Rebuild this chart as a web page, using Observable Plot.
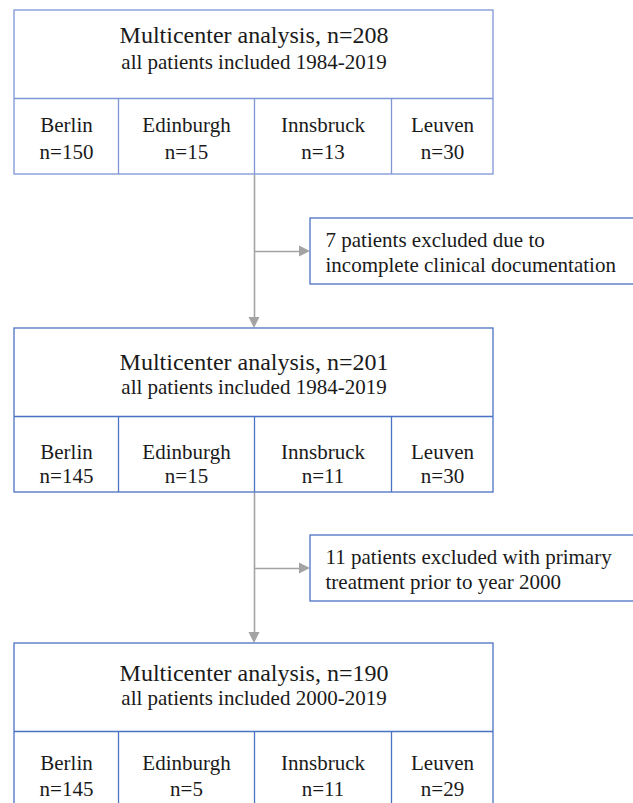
<!DOCTYPE html>
<html><head><meta charset="utf-8">
<script src="https://cdn.jsdelivr.net/npm/d3@7"></script>
<script src="https://cdn.jsdelivr.net/npm/@observablehq/plot@0.6"></script>
<style>body{margin:0;background:#fff}</style>
</head><body><div id="chart"></div>
<script>
// ---- data ----
const stageTitles = ["Multicenter analysis, n=208", "Multicenter analysis, n=201", "Multicenter analysis, n=190"];
const stageSubtitles = ["all patients included 1984-2019", "all patients included 1984-2019", "all patients included 2000-2019"];
const centers = ["Berlin", "Edinburgh", "Innsbruck", "Leuven"];
const countsStage1 = [150, 15, 13, 30];
const countsStage2 = [145, 15, 11, 30];
const countsStage3 = [145, 5, 11, 29];
const exclusionLines1 = ["7 patients excluded due to", "incomplete clinical documentation"];
const exclusionLines2 = ["11 patients excluded with primary", "treatment prior to year 2000"];

// ---- layout ----
const W = 633, H = 803;
const colEdges = [14, 118, 254, 391, 493];
const boxLeft = colEdges[0], boxRight = colEdges[colEdges.length - 1];
const boxTops = [10, 328, 643];
const boxH = 164, headerH = 88;
const titleDy = [25, 34, 30], subDy = [52, 59, 55], nameDy = [115, 124, 120], countDy = [142, 148, 146];
const exclTops = [218, 535], exclH = 66, exclLeft = 310, exclRight = 650;
const mainX = colEdges[2];
const head = 11;

const blueLight = "#7d96d4", blue = "#4a72c4", gray = "#a3a3a3", ink = "#1a1a1a", font = "Liberation Serif";
const boxColors = [blueLight, blue, blue];

const counts = [countsStage1, countsStage2, countsStage3];
const exclusions = [exclusionLines1, exclusionLines2];

const boxes = stageTitles.map((t, i) => ({k: i, x1: boxLeft, x2: boxRight, y1: boxTops[i], y2: boxTops[i] + boxH}));
const headerRules = boxTops.map((t, i) => ({k: i, x1: boxLeft, x2: boxRight, y: t + headerH}));
const colRules = boxTops.flatMap((t, i) => colEdges.slice(1, -1).map(x => ({k: i, x, y1: t + headerH, y2: t + boxH})));
const titleText = stageTitles.map((t, i) => ({x: (boxLeft + boxRight) / 2, y: boxTops[i] + titleDy[i], text: t}));
const subText = stageSubtitles.map((t, i) => ({x: (boxLeft + boxRight) / 2, y: boxTops[i] + subDy[i], text: t}));
const cellText = counts.flatMap((row, i) => row.flatMap((n, j) => {
  const cx = (colEdges[j] + colEdges[j + 1]) / 2;
  return [
    {x: cx, y: boxTops[i] + nameDy[i], text: centers[j]},
    {x: cx, y: boxTops[i] + countDy[i], text: "n=" + n}
  ];
}));
const exclBoxes = exclTops.map(t => ({x1: exclLeft, x2: exclRight, y1: t, y2: t + exclH}));
const exclText = exclusions.map((lines, i) => ({x: exclLeft + 15, y: exclTops[i] + exclH / 2, text: lines.join("\n")}));

// connectors
const vLinks = exclTops.map((t, i) => ({x1: mainX, x2: mainX, y1: boxTops[i] + boxH, y2: boxTops[i + 1] - head}));
const hLinks = exclTops.map(t => ({x1: mainX, x2: exclLeft - head, y1: t + exclH / 2, y2: t + exclH / 2}));
const downHeads = exclTops.flatMap((t, i) => {
  const tip = boxTops[i + 1];
  return [
    {k: i, x: mainX - head / 2, y1: tip - head, y2: tip - head},
    {k: i, x: mainX, y1: tip - head, y2: tip},
    {k: i, x: mainX + head / 2, y1: tip - head, y2: tip - head}
  ];
});
const rightHeads = exclTops.flatMap((t, i) => {
  const cy = t + exclH / 2, tip = exclLeft;
  return [
    {k: i, y: cy - head / 2, x1: tip - head, x2: tip - head},
    {k: i, y: cy, x1: tip - head, x2: tip},
    {k: i, y: cy + head / 2, x1: tip - head, x2: tip - head}
  ];
});

const strokeOf = d => boxColors[d.k];

const chart = Plot.plot({
  width: W, height: H, margin: 0,
  x: {domain: [0, W], range: [0, W], axis: null},
  y: {domain: [0, H], range: [0, H], axis: null},
  color: {type: "identity"},
  style: {background: "#fff"},
  marks: [
    Plot.link(vLinks, {x1: "x1", y1: "y1", x2: "x2", y2: "y2", stroke: gray, strokeWidth: 1.6}),
    Plot.link(hLinks, {x1: "x1", y1: "y1", x2: "x2", y2: "y2", stroke: gray, strokeWidth: 1.6}),
    Plot.areaY(downHeads, {x: "x", y1: "y1", y2: "y2", z: "k", fill: gray, curve: "linear"}),
    Plot.areaX(rightHeads, {y: "y", x1: "x1", x2: "x2", z: "k", fill: gray, curve: "linear"}),
    Plot.rect(boxes, {x1: "x1", x2: "x2", y1: "y1", y2: "y2", fill: "#fff", stroke: strokeOf, strokeWidth: 1.3}),
    Plot.ruleY(headerRules, {y: "y", x1: "x1", x2: "x2", stroke: strokeOf, strokeWidth: 1.3}),
    Plot.ruleX(colRules, {x: "x", y1: "y1", y2: "y2", stroke: strokeOf, strokeWidth: 1.3}),
    Plot.rect(exclBoxes, {x1: "x1", x2: "x2", y1: "y1", y2: "y2", fill: "#fff", stroke: blue, strokeWidth: 1.3}),
    Plot.text(titleText, {x: "x", y: "y", text: "text", fontSize: 24, fontFamily: font, fill: ink}),
    Plot.text(subText, {x: "x", y: "y", text: "text", fontSize: 21, fontFamily: font, fill: ink}),
    Plot.text(cellText, {x: "x", y: "y", text: "text", fontSize: 21, fontFamily: font, fill: ink}),
    Plot.text(exclText, {x: "x", y: "y", text: "text", fontSize: 21, fontFamily: font, fill: ink, textAnchor: "start", lineHeight: 25 / 21})
  ]
});
document.getElementById("chart").appendChild(chart);
</script>
</body></html>
